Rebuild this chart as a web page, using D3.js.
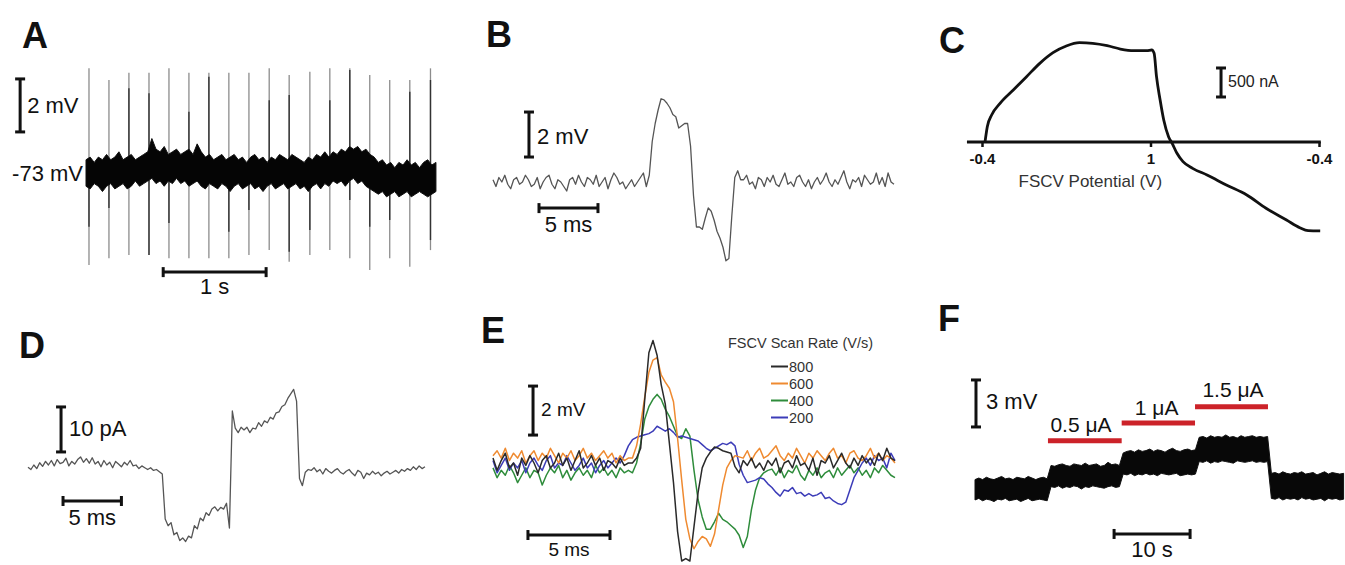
<!DOCTYPE html>
<html><head><meta charset="utf-8">
<script src="https://cdn.jsdelivr.net/npm/d3@7/dist/d3.min.js"></script>
<style>
html,body{margin:0;padding:0;background:#fff;}
svg{display:block;font-family:"Liberation Sans",Arial,sans-serif;}
</style></head><body>
<svg id="fig" width="1345" height="565"></svg>
<script>
// ---------------- DATA ----------------
// Panel A : spontaneous firing, band envelope sampled every 0.04 s (mV)
const aDt = 0.04;
const aUpper = [-72.5,-72.4,-72.6,-72.4,-72.5,-72.3,-72.5,-72.4,-72.2,-72.5,-72.4,-72.3,-72.5,-72.4,-72.3,-72.2,-71.7,-72.1,-72.2,-72.0,-72.3,-72.2,-72.1,-72.3,-72.2,-72.1,-72.3,-71.9,-72.2,-72.4,-72.3,-72.5,-72.4,-72.3,-72.5,-72.4,-72.3,-72.5,-72.4,-72.6,-72.4,-72.3,-72.5,-72.4,-72.6,-72.4,-72.5,-72.3,-72.4,-72.5,-72.3,-72.4,-72.5,-72.6,-72.4,-72.5,-72.3,-72.4,-72.2,-72.4,-72.2,-72.3,-72.1,-72.2,-72.0,-72.1,-72.0,-72.2,-72.1,-72.3,-72.4,-72.6,-72.5,-72.7,-72.6,-72.8,-72.6,-72.7,-72.5,-72.7,-72.6,-72.8,-72.6,-72.5,-72.7,-72.6];
const aLower = [-73.5,-73.6,-73.4,-73.5,-73.7,-73.5,-73.4,-73.6,-73.5,-73.4,-73.6,-73.5,-73.3,-73.5,-73.4,-73.3,-73.2,-73.4,-73.3,-73.5,-73.3,-73.4,-73.2,-73.4,-73.3,-73.5,-73.4,-73.3,-73.5,-73.6,-73.4,-73.5,-73.6,-73.4,-73.5,-73.7,-73.5,-73.4,-73.6,-73.5,-73.4,-73.6,-73.5,-73.7,-73.5,-73.4,-73.6,-73.5,-73.4,-73.6,-73.5,-73.4,-73.6,-73.5,-73.7,-73.5,-73.4,-73.6,-73.4,-73.5,-73.3,-73.4,-73.3,-73.5,-73.3,-73.2,-73.4,-73.3,-73.5,-73.6,-73.7,-73.8,-73.7,-73.9,-73.8,-73.7,-73.9,-73.8,-73.7,-73.9,-73.8,-73.7,-73.8,-73.9,-73.8,-73.7];
const aSpikeT = [0.029,0.223,0.417,0.612,0.806,1.000,1.194,1.388,1.583,1.780,1.974,2.175,2.369,2.563,2.757,2.951,3.146,3.347];
const aSpikeTop = [-69.05,-69.49,-69.22,-69.22,-69.05,-69.22,-69.22,-69.22,-69.22,-69.05,-69.30,-69.18,-69.05,-69.05,-69.30,-69.49,-69.49,-69.05];
const aSpikeBottom = [-76.47,-76.22,-76.09,-76.09,-76.22,-76.22,-76.22,-76.22,-76.09,-75.91,-76.35,-76.09,-75.91,-76.22,-76.66,-76.22,-76.54,-75.91];
const aSpikeDarkTop = [null,null,-69.80,-69.99,null,-70.69,-69.37,null,null,-70.25,-70.06,null,-70.25,-69.11,null,null,-69.93,-69.49];
const aSpikeDarkBottom = [-75.03,-74.32,null,-76.09,-74.89,null,null,-75.22,-74.40,null,-75.97,-75.15,null,-74.02,-75.03,-74.77,null,-75.53];

// Panel B : single spike, sampled every 0.25 ms (mV)
const bDt = 0.25;
const bValues = [0.1,-0.2,0.2,0.0,0.3,-0.1,-0.3,0.1,0.2,-0.1,0.0,0.3,0.1,-0.2,-0.1,0.2,-0.3,0.0,0.2,0.3,-0.1,-0.3,0.1,0.0,-0.2,-0.4,0.1,0.2,-0.1,0.3,0.0,-0.2,0.2,0.1,-0.1,0.3,-0.2,0.0,0.2,-0.3,0.1,0.4,0.2,-0.1,0.0,-0.3,-0.1,0.1,-0.2,0.0,0.2,0.4,-0.2,
 0.3,1.8,2.6,3.2,3.7,3.65,3.5,3.3,3.0,2.9,2.4,2.5,2.6,2.6,1.6,-0.6,-2.0,-2.0,-2.1,-1.6,-1.15,-1.3,-1.7,-2.2,-2.5,-2.9,-3.5,-3.4,-1.5,0.2,0.5,0.1,
 0.1,0.3,-0.1,0.0,-0.3,0.2,0.1,-0.2,0.2,0.0,0.3,-0.1,-0.2,0.1,0.4,-0.1,0.0,-0.2,0.2,0.3,0.0,-0.2,0.1,-0.3,0.0,0.2,-0.1,0.1,0.4,0.0,-0.2,0.1,-0.1,0.2,0.5,0.0,-0.3,0.1,0.0,0.2,-0.2,0.3,0.1,-0.1,0.0,0.4,-0.1,0.2,-0.2,0.4,0.0,-0.1];

// Panel C : FSCV background current vs scan position (V travelled from -0.4 V)
const cScan = [0.025,0.044,0.08,0.15,0.26,0.37,0.48,0.59,0.70,0.81,0.92,1.04,1.15,1.26,1.37,1.41,1.43,1.45,1.48,1.51,1.55,1.58,1.62,1.67,1.75,1.87,2.03,2.20,2.36,2.53,2.64,2.71,2.81];
const cCurrent = [0,264,465,667,896,1126,1356,1540,1655,1712,1701,1661,1603,1575,1575,1586,1529,1126,724,379,92,-23,-195,-339,-454,-569,-741,-914,-1143,-1345,-1477,-1529,-1534];
const cTickPos = [0, 1.4, 2.8];
const cTickLabels = ["-0.4", "1", "-0.4"];

// Panel D : current trace, sampled every 0.25 ms (pA)
const dDt = 0.25;
const dValues = [-0.5,-1.0,0.0,-0.8,0.5,-0.3,0.8,0.0,1.0,-0.2,1.2,0.3,0.6,1.5,-0.2,0.8,0.2,1.2,1.8,0.6,1.4,0.4,1.6,0.2,0.8,-0.4,1.0,0.0,0.6,-0.6,0.8,0.2,-0.4,0.6,0.0,1.0,-0.2,0.0,-0.8,-0.2,-0.6,-1.0,-0.6,-1.2,-1.0,-1.5,
 -2.0,-12.0,-13.5,-12.8,-15.5,-15.0,-16.8,-16.2,-17.0,-15.8,-16.2,-13.5,-14.2,-11.8,-12.4,-10.6,-11.2,-9.8,-9.3,-10.2,-9.4,-9.8,-8.5,-14.0,12.0,8.2,7.2,8.4,7.8,8.4,7.2,8.2,8.0,9.4,8.6,9.8,9.4,10.6,10.2,11.6,11.8,13.0,13.4,14.8,15.8,16.8,14.2,-3.0,-4.6,-1.6,-1.0,
 -1.2,-0.6,-1.5,-1.0,-2.0,-0.8,-1.4,-1.8,-1.2,-0.8,-1.6,-2.0,-1.4,-1.0,-1.8,-2.4,-1.2,-1.6,-3.0,-1.8,-2.2,-1.4,-2.0,-1.6,-2.4,-1.8,-1.4,-2.0,-1.6,-1.2,-1.8,-1.0,-1.4,-0.8,-1.2,-0.4,-1.0,-0.2,-0.8,-0.4];

// Panel E : spikes at four FSCV scan rates, sampled every 0.25 ms (mV)
const eDt = 0.25;
const eRates = ["800", "600", "400", "200"];
const eColors = ["#2a2a2a", "#ef8a30", "#2e8c3b", "#3c3cb8"];
const e800 = [0.2,-0.3,0.1,0.4,-0.2,0.0,-0.5,0.2,-0.1,0.3,0.0,-0.4,0.1,0.3,-0.2,0.0,0.4,-0.1,0.2,-0.3,0.1,0.5,-0.2,0.0,0.3,-0.1,0.2,-0.3,0.1,0.0,-0.2,0.2,-0.1,0.0,
 0.0,0.2,0.6,2.6,4.5,5.0,4.4,3.2,2.4,0.8,-0.8,-2.8,-4.0,-3.9,-4.0,-2.6,-1.2,-0.2,0.2,0.45,0.65,0.6,0.5,0.45,0.4,-0.15,-0.4,0.1,
 -0.1,0.2,-0.2,0.0,-0.3,0.1,-0.1,0.2,-0.4,0.0,0.1,-0.2,0.3,-0.1,0.0,-0.3,0.2,-0.5,0.1,0.0,0.3,-0.2,0.1,0.4,0.0,-0.2,0.2,-0.1,0.3,0.0,0.2,-0.1,0.4,0.1,0.6,0.2,0.1];
const e600 = [0.3,0.5,0.2,0.6,0.1,0.4,0.2,0.5,0.0,0.3,0.5,0.1,0.4,0.2,0.6,0.3,0.0,0.4,0.2,0.5,0.1,0.3,0.6,0.2,0.4,0.1,0.3,0.5,0.2,0.4,0.0,0.3,0.1,0.2,
 0.2,0.7,1.6,2.7,3.7,4.2,4.3,3.6,3.3,3.05,2.5,1.0,-0.7,-2.3,-3.1,-3.5,-3.2,-3.0,-3.1,-3.4,-2.9,-1.9,-0.9,-0.2,0.1,0.3,0.25,
 0.2,0.5,0.1,0.4,0.6,0.2,0.3,0.5,0.7,0.3,0.1,0.4,0.2,0.6,0.3,0.0,0.4,0.2,0.5,0.3,0.1,0.4,0.6,0.2,0.3,0.0,0.4,0.5,0.2,0.1,0.3,0.6,0.2,0.4,0.1,0.3,0.2,0.0];
const e400 = [-0.2,-0.6,-0.3,-0.5,-0.1,-0.4,-0.8,-0.5,-0.2,-0.6,-0.3,-0.4,-0.9,-0.5,-0.2,-0.4,-0.1,-0.6,-0.3,-0.7,-0.4,-0.2,-0.5,-0.3,-0.6,-0.1,-0.4,-0.2,-0.5,-0.3,-0.6,-0.2,-0.4,-0.3,
 -0.4,0.0,0.8,1.8,2.3,2.6,2.8,2.6,2.2,1.9,1.5,1.1,1.0,1.4,1.1,-0.3,-1.5,-2.2,-2.7,-2.7,-2.4,-2.05,-2.3,-2.4,-2.55,-2.7,-2.95,-3.45,-3.0,-1.9,-1.1,-0.6,-0.4,-0.3,-0.25,
 -0.5,-0.2,-0.6,-0.3,-0.4,-0.1,-0.5,-0.7,-0.3,-0.5,-0.2,-0.6,-0.4,-0.3,-0.6,-0.2,-0.5,-0.3,-0.1,-0.4,-0.2,-0.5,-0.3,-0.6,-0.2,-0.4,-0.1,-0.3,-0.5,-0.6];
const e200 = [0.1,-0.4,-0.1,0.2,-0.3,0.0,-0.2,0.1,-0.4,0.0,0.2,-0.1,-0.3,0.1,0.3,-0.2,0.0,-0.1,0.3,0.0,-0.3,-0.1,0.2,-0.2,0.0,-0.4,-0.1,0.1,-0.2,0.0,0.2,0.0,
 0.3,0.7,0.95,1.05,1.1,1.15,1.2,1.3,1.5,1.4,1.3,1.4,1.25,1.05,1.1,1.05,1.0,0.95,0.9,0.75,0.6,0.5,0.6,0.7,0.8,0.75,0.85,0.7,
 -0.05,-0.5,-0.8,-0.75,-0.7,-0.6,-0.65,-0.85,-1.0,-1.2,-1.35,-1.1,-1.15,-1.0,-1.25,-1.2,-1.35,-1.25,-1.35,-1.3,-1.2,-1.45,-1.4,-1.55,-1.65,-1.7,-1.6,-1.1,-0.6,-0.3,0.0,
 0.2,-0.1,0.3,0.1,0.2,-0.2,0.4,0.1];
const eSeries = [e800, e600, e400, e200];

// Panel F : stepped depolarisation, band envelope every 0.5 s (mV rel. baseline)
const fDt = 0.5;
const fUpper = [0.6,0.7,0.6,0.75,0.65,0.6,0.7,0.8,0.65,0.7,0.6,0.75,0.7,0.65,0.8,0.7,0.6,0.7,0.75,0.65,
 1.5,1.45,1.55,1.6,1.5,1.45,1.6,1.55,1.5,1.65,1.5,1.55,1.6,1.45,1.5,1.7,1.55,1.6,1.5,
 2.3,2.4,2.45,2.35,2.5,2.4,2.45,2.55,2.4,2.5,2.45,2.35,2.5,2.6,2.45,2.4,2.5,2.55,2.45,2.5,
 3.3,3.35,3.25,3.4,3.3,3.35,3.3,3.45,3.3,3.35,3.25,3.4,3.3,3.35,3.4,3.3,3.35,3.3,3.35,
 1.0,1.05,0.95,1.1,1.0,0.95,1.05,1.0,1.1,0.95,1.0,1.05,0.9,1.0,1.1,0.95,1.05,1.0,0.95,1.0];
const fLower = [-0.7,-0.6,-0.75,-0.65,-0.7,-0.8,-0.65,-0.7,-0.6,-0.75,-0.7,-0.65,-0.8,-0.7,-0.6,-0.75,-0.7,-0.65,-0.7,-0.75,
 0.15,0.1,0.2,0.05,0.15,0.1,0.2,0.15,0.0,0.15,0.1,0.2,0.15,0.1,0.05,0.15,0.2,0.1,0.15,
 0.95,0.9,1.0,0.85,0.95,0.9,1.0,0.9,0.95,0.85,1.0,0.95,0.9,0.95,1.0,0.85,0.9,0.95,0.9,0.95,
 1.75,1.7,1.8,1.65,1.75,1.7,1.8,1.75,1.7,1.65,1.8,1.75,1.7,1.75,1.8,1.7,1.75,1.7,1.75,
 -0.6,-0.65,-0.55,-0.7,-0.6,-0.65,-0.6,-0.7,-0.55,-0.65,-0.6,-0.7,-0.65,-0.6,-0.75,-0.6,-0.65,-0.6,-0.7,-0.65];
const fStimStart = [9.6, 19.3, 28.95];
const fStimEnd = [19.3, 28.95, 38.55];
const fStimLevel = [3.08, 4.21, 5.25];
const fStimLabels = ["0.5 \u03bcA", "1 \u03bcA", "1.5 \u03bcA"];

// ---------------- DRAWING ----------------
const svg = d3.select("#fig");
const FONT = '"Liberation Sans", Arial, sans-serif';

function panelLetter(txt, x, y) {
  svg.append("text").attr("x", x).attr("y", y).text(txt)
    .attr("font-size", 36).attr("font-weight", "bold").attr("fill", "#111")
    .attr("font-family", FONT);
}
function vbar(x, y1, y2) {
  const g = svg.append("g").attr("stroke", "#111").attr("stroke-width", 3).attr("stroke-linecap", "butt");
  g.append("line").attr("x1", x).attr("x2", x).attr("y1", y1).attr("y2", y2);
  g.append("line").attr("x1", x - 5).attr("x2", x + 5).attr("y1", y1).attr("y2", y1);
  g.append("line").attr("x1", x - 5).attr("x2", x + 5).attr("y1", y2).attr("y2", y2);
}
function hbar(x1, x2, y) {
  const g = svg.append("g").attr("stroke", "#111").attr("stroke-width", 3);
  g.append("line").attr("x1", x1).attr("x2", x2).attr("y1", y).attr("y2", y);
  g.append("line").attr("x1", x1).attr("x2", x1).attr("y1", y - 5).attr("y2", y + 5);
  g.append("line").attr("x1", x2).attr("x2", x2).attr("y1", y - 5).attr("y2", y + 5);
}
function label(txt, x, y, size, anchor, color, weight) {
  svg.append("text").attr("x", x).attr("y", y).text(txt)
    .attr("font-size", size).attr("text-anchor", anchor || "start")
    .attr("fill", color || "#111").attr("font-weight", weight || "normal")
    .attr("font-family", FONT);
}

// ===== Panel A =====
const xA = d3.scaleLinear().domain([0, 3.42]).range([86, 438]);
const yA = d3.scaleLinear().domain([-73, -71]).range([173, 120]);
panelLetter("A", 22, 48);
aSpikeT.forEach((t, i) => {
  svg.append("line").attr("x1", xA(t)).attr("x2", xA(t))
    .attr("y1", yA(aSpikeTop[i])).attr("y2", yA(aSpikeBottom[i]))
    .attr("stroke", "#8c8c8c").attr("stroke-width", 1.3);
  if (aSpikeDarkTop[i] !== null)
    svg.append("line").attr("x1", xA(t)).attr("x2", xA(t))
      .attr("y1", yA(aSpikeDarkTop[i])).attr("y2", yA(-73))
      .attr("stroke", "#333").attr("stroke-width", 1.4);
  if (aSpikeDarkBottom[i] !== null)
    svg.append("line").attr("x1", xA(t)).attr("x2", xA(t))
      .attr("y1", yA(-73)).attr("y2", yA(aSpikeDarkBottom[i]))
      .attr("stroke", "#333").attr("stroke-width", 1.4);
});
const aArea = d3.area().x((d, i) => xA(i * aDt)).y0((d, i) => yA(aLower[i])).y1((d, i) => yA(aUpper[i]));
svg.append("path").datum(aUpper).attr("d", aArea).attr("fill", "#050505")
  .attr("stroke", "#111").attr("stroke-width", 1);
vbar(xA(-0.64), yA(-71.45), yA(-69.45));
label("2 mV", xA(-0.64) + 7, yA(-70.74), 22);
label("-73 mV", xA(0) - 3, yA(-73) + 8, 22, "end");
hbar(xA(0.75), xA(1.75), yA(-76.74));
label("1 s", xA(1.25), yA(-76.74) + 22, 22, "middle");

// ===== Panel B =====
const xB = d3.scaleLinear().domain([0, 34]).range([493, 894]);
const yB = d3.scaleLinear().domain([0, 2]).range([182, 137]);
panelLetter("B", 486, 47);
const bLine = d3.line().x((d, i) => xB(i * bDt)).y(d => yB(d));
svg.append("path").datum(bValues).attr("d", bLine).attr("fill", "none")
  .attr("stroke", "#555").attr("stroke-width", 1.3).attr("stroke-linejoin", "round");
vbar(xB(3.05), yB(1.11), yB(3.11));
label("2 mV", xB(3.05) + 8, yB(1.11) - 13, 22);
hbar(xB(3.9), xB(8.9), yB(-1.16));
label("5 ms", xB(6.4), yB(-1.16) + 24, 22, "middle");

// ===== Panel C =====
const xC = d3.scaleLinear().domain([0, 2.8]).range([982, 1319]);
const yC = d3.scaleLinear().domain([0, 500]).range([142, 113]);
panelLetter("C", 939, 53);
svg.append("line").attr("x1", xC(-0.125)).attr("x2", xC(2.815))
  .attr("y1", yC(0)).attr("y2", yC(0)).attr("stroke", "#111").attr("stroke-width", 3);
const cAxis = svg.append("g").attr("transform", `translate(0,${yC(0)})`)
  .call(d3.axisBottom(xC).tickValues(cTickPos).tickFormat((d, i) => cTickLabels[i]).tickSize(5).tickPadding(6));
cAxis.select(".domain").remove();
cAxis.selectAll(".tick line").attr("stroke", "#111").attr("stroke-width", 2.5);
cAxis.selectAll(".tick text").attr("font-size", 15).attr("font-weight", "bold")
  .attr("fill", "#111").attr("font-family", FONT);
const cLine = d3.line().x((d, i) => xC(cScan[i])).y(d => yC(d)).curve(d3.curveMonotoneX);
svg.append("path").datum(cCurrent).attr("d", cLine).attr("fill", "none")
  .attr("stroke", "#111").attr("stroke-width", 2.8).attr("stroke-linejoin", "round");
vbar(xC(1.986), yC(776), yC(1276));
label("500 nA", xC(1.986) + 7, yC(776) - 10, 16, "start", "#222");
label("FSCV Potential (V)", xC(0.9), 187, 17, "middle", "#333");

// ===== Panel D =====
const xD = d3.scaleLinear().domain([0, 34]).range([28, 425]);
const yD = d3.scaleLinear().domain([0, 10]).range([465, 420]);
panelLetter("D", 19, 358);
const dLine = d3.line().x((d, i) => xD(i * dDt)).y(d => yD(d));
svg.append("path").datum(dValues).attr("d", dLine).attr("fill", "none")
  .attr("stroke", "#555").attr("stroke-width", 1.3).attr("stroke-linejoin", "round");
vbar(xD(2.83), yD(2.9), yD(12.9));
label("10 pA", xD(2.83) + 8, yD(2.9) - 16, 22);
hbar(xD(3.0), xD(8.0), yD(-8));
label("5 ms", xD(5.5), yD(-8) + 24, 22, "middle");

// ===== Panel E =====
const xE = d3.scaleLinear().domain([0, 24.5]).range([493, 895]);
const yE = d3.scaleLinear().domain([0, 2]).range([463, 414]);
panelLetter("E", 481, 343);
const eLine = d3.line().x((d, i) => xE(i * eDt)).y(d => yE(d));
[2, 3, 1, 0].forEach(k => {
  svg.append("path").datum(eSeries[k]).attr("d", eLine).attr("fill", "none")
    .attr("stroke", eColors[k]).attr("stroke-width", 1.5).attr("stroke-linejoin", "round");
});
vbar(xE(2.44), yE(1.14), yE(3.14));
label("2 mV", xE(2.44) + 8, yE(1.14) - 19, 19);
hbar(xE(2.13), xE(7.13), yE(-2.94));
label("5 ms", xE(4.63), yE(-2.94) + 21, 19, "middle");
label("FSCV Scan Rate (V/s)", 728, 348, 14.5, "start", "#333");
eRates.forEach((r, k) => {
  const y = 366.5 + k * 17;
  svg.append("line").attr("x1", 771).attr("x2", 788).attr("y1", y).attr("y2", y)
    .attr("stroke", eColors[k]).attr("stroke-width", 2);
  label(r, 789, y + 5, 14.5, "start", "#333");
});

// ===== Panel F =====
const xF = d3.scaleLinear().domain([0, 48.5]).range([975, 1343.6]);
const yF = d3.scaleLinear().domain([0, 3]).range([489, 442]);
panelLetter("F", 938, 331);
const fArea = d3.area().x((d, i) => xF(i * fDt)).y0((d, i) => yF(fLower[i])).y1((d, i) => yF(fUpper[i]));
svg.append("path").datum(fUpper).attr("d", fArea).attr("fill", "#080808")
  .attr("stroke", "#111").attr("stroke-width", 1);
fStimStart.forEach((s, k) => {
  svg.append("line").attr("x1", xF(s)).attr("x2", xF(fStimEnd[k]))
    .attr("y1", yF(fStimLevel[k])).attr("y2", yF(fStimLevel[k]))
    .attr("stroke", "#cc2229").attr("stroke-width", 5);
});
label(fStimLabels[0], xF(fStimStart[0]) + 33, yF(fStimLevel[0]) - 9, 21, "middle");
label(fStimLabels[1], xF(fStimStart[1]) + 35, yF(fStimLevel[1]) - 8, 21, "middle");
label(fStimLabels[2], xF(fStimStart[2]) + 38, yF(fStimLevel[2]) - 10, 21, "middle");
vbar(xF(0.13), yF(3.96), yF(6.96));
label("3 mV", xF(0.13) + 10, yF(3.96) - 18, 22);
hbar(xF(18.3), xF(28.3), yF(-2.87));
label("10 s", xF(23.3), yF(-2.87) + 23, 22, "middle");
</script>
</body></html>
